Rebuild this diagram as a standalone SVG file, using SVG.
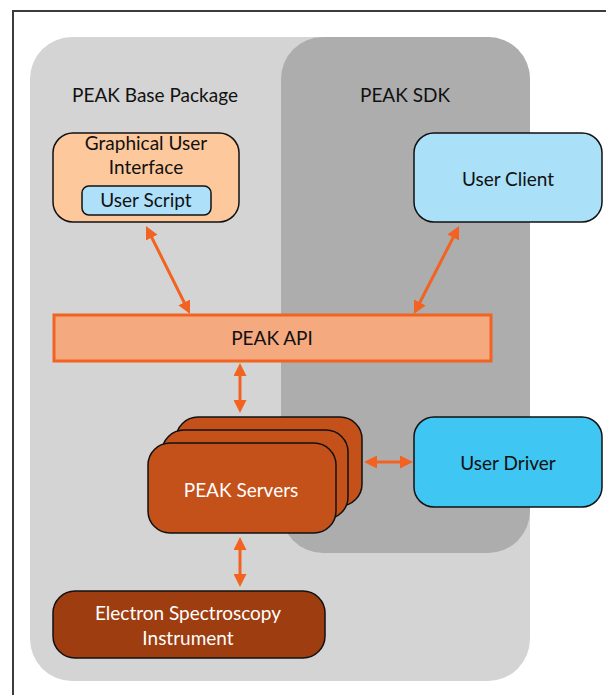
<svg xmlns="http://www.w3.org/2000/svg" width="606" height="695" viewBox="0 0 606 695">
<style>
.t{font-family:Lato,"Open Sans","Liberation Sans",sans-serif;font-size:19px;fill:#111;text-anchor:middle}
.w{fill:#fff}
.box{stroke:#111;stroke-width:1.5}
.ar{stroke:#f26322;stroke-width:3;fill:none;marker-start:url(#ah);marker-end:url(#ah)}
</style>
<defs>
<marker id="ah" markerUnits="userSpaceOnUse" markerWidth="13" markerHeight="13" refX="4" refY="6.5" orient="auto-start-reverse" viewBox="0 0 13 13">
<path d="M0,0 L13,6.5 L0,13 z" fill="#f26322"/>
</marker>
</defs>
<rect x="0" y="0" width="606" height="695" fill="#fff"/>
<rect x="13" y="11" width="700" height="700" fill="#fff" stroke="#3c3c3c" stroke-width="2"/>
<g id="base-package">
<rect x="30" y="37" width="500" height="644" rx="42" fill="#d4d4d4"/>
<text class="t" x="155" y="102">PEAK Base Package</text>
</g>
<g id="sdk">
<rect x="281" y="37" width="249" height="516" rx="42" fill="#adadad"/>
<text class="t" x="405" y="102">PEAK SDK</text>
</g>
<g id="gui">
<rect class="box" x="53" y="133" width="186" height="89" rx="20" fill="#fdc89c"/>
<text class="t" x="146" y="150">Graphical User</text>
<text class="t" x="146" y="174">Interface</text>
</g>
<g id="user-script">
<rect class="box" x="82" y="186" width="129" height="29" rx="7" fill="#aee1f9"/>
<text class="t" x="146" y="207">User Script</text>
</g>
<g id="user-client">
<rect class="box" x="414" y="133" width="188" height="89" rx="20" fill="#abe0f9"/>
<text class="t" x="508" y="186">User Client</text>
</g>
<g id="peak-api">
<rect x="54" y="315" width="437" height="46" fill="#f5a97f" stroke="#f26322" stroke-width="3"/>
<text class="t" x="272" y="345">PEAK API</text>
</g>
<g id="peak-servers">
<rect class="box" x="176" y="417" width="186" height="89" rx="22" fill="#c4501a"/>
<rect class="box" x="162" y="430" width="186" height="89" rx="22" fill="#c4501a"/>
<rect class="box" x="148" y="443" width="188" height="90" rx="22" fill="#c4501a"/>
<text class="t w" x="241" y="497">PEAK Servers</text>
</g>
<g id="user-driver">
<rect class="box" x="414" y="417" width="188" height="90" rx="20" fill="#3fc6f2"/>
<text class="t" x="508" y="470">User Driver</text>
</g>
<g id="instrument">
<rect class="box" x="53" y="591" width="272" height="67" rx="22" fill="#9e3d10"/>
<text class="t w" x="188" y="620">Electron Spectroscopy</text>
<text class="t w" x="188" y="645">Instrument</text>
</g>
<g id="connectors">
<line class="ar" x1="150" y1="234" x2="186" y2="306"/>
<line class="ar" x1="455" y1="234" x2="418" y2="306"/>
<line class="ar" x1="240" y1="372" x2="240" y2="404"/>
<line class="ar" x1="373" y1="462" x2="404" y2="462"/>
<line class="ar" x1="240" y1="546" x2="240" y2="578"/>
</g>
</svg>
